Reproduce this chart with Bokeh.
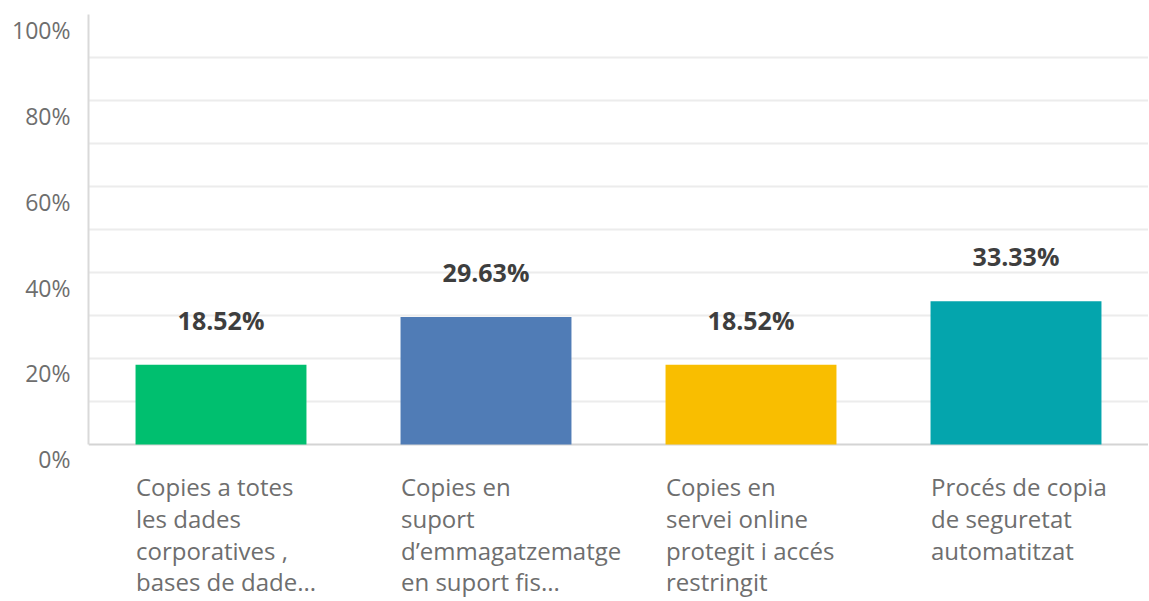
from bokeh.plotting import figure
from bokeh.models import (FactorRange, Range1d, LinearAxis, FixedTicker, Grid,
                          ColumnDataSource, CustomJSTickFormatter)
from bokeh.core.properties import value
from bokeh.embed import file_html
from bokeh.resources import INLINE

# ---------------- data ----------------
categories = [
    "Copies a totes les dades corporatives , bases de dade...",
    "Copies en suport d’emmagatzematge en suport fis...",
    "Copies en servei online protegit i accés restringit",
    "Procés de copia de seguretat automatitzat",
]
category_labels = [
    "Copies a totes\nles dades\ncorporatives ,\nbases de dade...",
    "Copies en\nsuport\nd’emmagatzematge\nen suport fis...",
    "Copies en\nservei online\nprotegit i accés\nrestringit",
    "Procés de copia\nde seguretat\nautomatitzat",
]
values = [18.52, 29.63, 18.52, 33.33]
value_labels = ["18.52%", "29.63%", "18.52%", "33.33%"]
colors = ["#00BF6F", "#507CB6", "#F9BE00", "#04A5AD"]
y_ticks = [0, 20, 40, 60, 80, 100]
grid_ticks = [10, 20, 30, 40, 50, 60, 70, 80, 90, 100]

# ---------------- layout constants ----------------
Y_MIN = -36.3       # frame extends below 0 to host the category labels
LBL_SHIFT = 3.5     # y tick labels sit a little below their grid lines

src = ColumnDataSource(dict(cat=categories, val=values, lbl=value_labels,
                            color=colors, cat_label=category_labels,
                            zero=[0] * len(categories)))

p = figure(x_range=FactorRange(factors=categories, range_padding=0),
           y_range=Range1d(Y_MIN, 100),
           width=1148, height=600,
           output_backend="svg", toolbar_location=None,
           x_axis_location=None, y_axis_location=None,
           min_border_left=88, min_border_right=0,
           min_border_top=14, min_border_bottom=0,
           outline_line_color=None, background_fill_color="white",
           border_fill_color="white")
p.center = []

# grid lines
p.add_layout(Grid(dimension=1, ticker=FixedTicker(ticks=grid_ticks),
                  grid_line_color="#ECECEC", grid_line_width=2))
# baseline
p.add_layout(Grid(dimension=1, ticker=FixedTicker(ticks=[0]),
                  grid_line_color="#D4D4D4", grid_line_width=2))

# vertical axis line (0..100 only)
line_axis = LinearAxis(ticker=FixedTicker(ticks=[]), bounds=(0, 100),
                       axis_line_color="#D9D9D9", axis_line_width=2,
                       major_tick_line_color=None, minor_tick_line_color=None,
                       major_label_text_font_size="0px", major_label_standoff=0,
                       major_tick_out=0, major_tick_in=0)
p.add_layout(line_axis, "left")

# tick label axis (shifted range so labels sit below grid lines)
p.extra_y_ranges = {"lbl": Range1d(Y_MIN + LBL_SHIFT, 100 + LBL_SHIFT)}
lbl_axis = LinearAxis(y_range_name="lbl", ticker=FixedTicker(ticks=y_ticks),
                      formatter=CustomJSTickFormatter(code="return tick + '%'"),
                      axis_line_color=None, major_tick_line_color=None,
                      minor_tick_line_color=None,
                      major_label_text_font="Open Sans",
                      major_label_text_font_size="23px",
                      major_label_text_color="#6E6E6E",
                      major_label_standoff=12)
p.add_layout(lbl_axis, "left")

# bars
p.vbar(x="cat", top="val", bottom=0, width=0.645, source=src,
       fill_color="color", line_color=None)

# value labels
p.text(x="cat", y="val", text="lbl", source=src, y_offset=-45,
       text_align="center", text_baseline="middle",
       text_font=value("Open Sans"), text_font_style="bold",
       text_font_size="25px", text_color="#3E3E3E")

# category labels
p.text(x="cat", y="zero", text="cat_label", source=src,
       x_offset=-85, y_offset=26,
       text_align="left", text_baseline="top", text_line_height=0.96,
       text_font=value("Open Sans"), text_font_size="24px",
       text_color="#6E6E6E")

open("out.html", "w").write(file_html(p, INLINE))
